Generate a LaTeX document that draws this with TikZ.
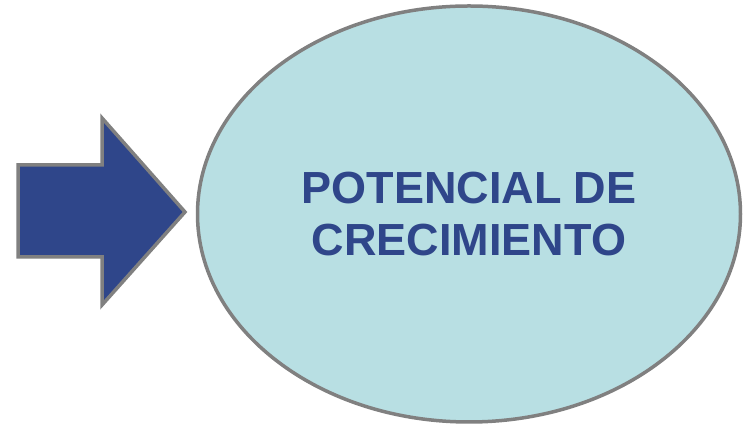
\documentclass[tikz,border=0pt]{standalone}
\usepackage{fontspec}
\setmainfont{Liberation Sans}
\usetikzlibrary{shapes.geometric}
\definecolor{navy}{HTML}{2F468A}
\definecolor{lightcyan}{HTML}{B8DFE3}
\definecolor{rimgray}{HTML}{808080}
\tikzset{
  bigoval/.style={ellipse, draw=rimgray, line width=3.5pt, fill=lightcyan, inner sep=0pt,
    minimum width=543pt, minimum height=416pt, align=center, text=navy,
    font=\fontsize{45}{52}\selectfont\bfseries},
  bluearrow/.style={draw=rimgray, line width=3.5pt, fill=navy, line join=miter}
}
\begin{document}
\begin{tikzpicture}[x=1pt,y=1pt]
\useasboundingbox (0,0) rectangle (748,425);
\draw[bluearrow] (18,260) -- (102,260) -- (102,307) -- (185,213) -- (102,120) -- (102,168) -- (18,168) -- cycle;
\node[bigoval] (oval) at (469,211) {POTENCIAL DE\\CRECIMIENTO};
\end{tikzpicture}
\end{document}
